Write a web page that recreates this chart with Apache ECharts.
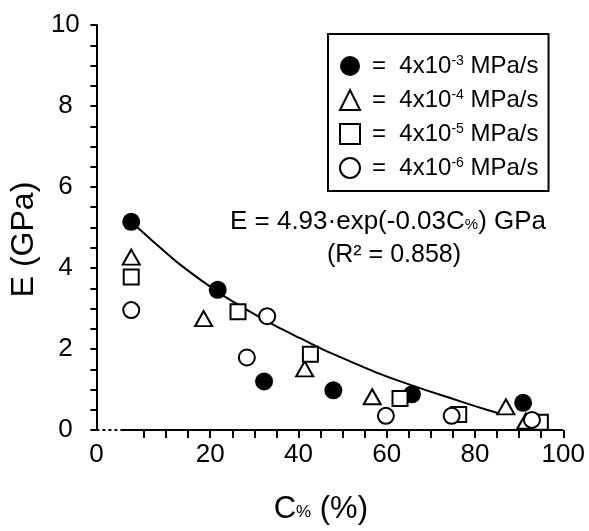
<!DOCTYPE html>
<html>
<head>
<meta charset="utf-8">
<script src="https://cdn.jsdelivr.net/npm/echarts@6/dist/echarts.min.js"></script>
<style>
  html, body { margin: 0; padding: 0; background: #fff; }
  #chart { width: 589px; height: 531px; }
</style>
</head>
<body>
<div id="chart"></div>
<script>
const FONT = '"Liberation Sans", Arial, Helvetica, sans-serif';

// Loading rates: 4x10^n MPa/s
const rateExponents = ['-3', '-4', '-5', '-6'];
const seriesNames = rateExponents.map(e => '4x10' + e + ' MPa/s');

// C% (%) and E (GPa) for each loading rate
const rate3C = [2.1, 21.7, 32.2, 47.9, 65.7, 90.9];
const rate3E = [5.14, 3.46, 1.20, 0.98, 0.88, 0.67];
const rate4C = [2.1, 18.5, 41.4, 56.7, 87.0, 91.5];
const rate4E = [4.27, 2.75, 1.51, 0.82, 0.57, 0.22];
const rate5C = [2.1, 26.3, 42.7, 63.0, 76.3, 94.8];
const rate5E = [3.78, 2.92, 1.87, 0.78, 0.38, 0.19];
const rate6C = [2.1, 28.3, 32.9, 59.8, 74.7, 92.9];
const rate6E = [2.96, 1.79, 2.81, 0.35, 0.35, 0.25];

// Exponential trend curve, sampled along C%
const fitC = [2.1, 6.6, 12.2, 17.9, 23.5, 29.2, 34.8, 40.5, 46.1, 51.8, 57.4, 63.1, 68.7, 74.4, 80.0, 85.7];
const fitE = [5.14, 4.70, 4.17, 3.70, 3.28, 2.91, 2.57, 2.26, 1.96, 1.69, 1.43, 1.20, 0.99, 0.79, 0.59, 0.40];

// Axis setup: x axis is broken between the E axis and C% = 0
const xBreakStart = -5.8;
const xTickValues = [5, 10, 15, 20, 25, 30, 35, 40, 45, 50, 55, 60, 65, 70, 75, 80, 85, 90, 95, 100];
const xLabelValues = [xBreakStart, 20, 40, 60, 80, 100];
const yTickLabels = [0, 2, 4, 6, 8, 10];

const zip = (xs, ys) => xs.map((x, i) => [x, ys[i]]);

const openStyle = { color: '#fff', borderColor: '#000', borderWidth: 2, opacity: 1 };

const chart = echarts.init(document.getElementById('chart'), null, { renderer: 'canvas' });

chart.setOption({
  animation: false,
  backgroundColor: '#fff',
  textStyle: { fontFamily: FONT, color: '#000' },
  grid: { left: 95, right: 25.7, top: 25, bottom: 101 },
  xAxis: {
    type: 'value',
    min: xBreakStart,
    max: 100,
    axisLine: { show: false, onZero: false },
    splitLine: { show: false },
    axisTick: {
      show: true,
      customValues: xTickValues,
      length: 8,
      lineStyle: { color: '#000', width: 2 }
    },
    axisLabel: {
      customValues: xLabelValues,
      formatter: v => (v < 0 ? '0' : String(Math.round(v))),
      fontSize: 26,
      color: '#000',
      fontFamily: FONT,
      margin: 12
    },
    name: '{c|C}{s|%}{c| (%)}',
    nameLocation: 'middle',
    nameGap: 62,
    nameTextStyle: {
      padding: [0, 18, 0, 0],
      rich: {
        c: { fontSize: 31, fontFamily: FONT, color: '#000', lineHeight: 34 },
        s: { fontSize: 17, fontFamily: FONT, color: '#000', lineHeight: 19, verticalAlign: 'bottom', padding: [0, 0, 5, 0] }
      }
    }
  },
  yAxis: {
    type: 'value',
    min: 0,
    max: 10,
    interval: 2,
    axisLine: { show: true, onZero: false, lineStyle: { color: '#000', width: 2 } },
    splitLine: { show: false },
    axisTick: { show: true, length: 6, lineStyle: { color: '#000', width: 2 } },
    minorTick: { show: true, splitNumber: 4, length: 6, lineStyle: { color: '#000', width: 2 } },
    axisLabel: {
      customValues: yTickLabels,
      fontSize: 26,
      color: '#000',
      fontFamily: FONT,
      align: 'center',
      margin: 31
    },
    name: 'E (GPa)',
    nameLocation: 'middle',
    nameRotate: 90,
    nameGap: 52,
    nameTextStyle: { fontSize: 32, fontFamily: FONT, color: '#000', padding: [0, 24, 0, 0] }
  },
  legend: {
    data: seriesNames,
    orient: 'vertical',
    left: 328,
    top: 34,
    padding: [20, 10, 11, 11],
    itemGap: 10,
    itemWidth: 20,
    itemHeight: 20,
    borderColor: '#000',
    borderWidth: 2,
    selectedMode: false,
    formatter: name => {
      const e = rateExponents[seriesNames.indexOf(name)];
      return '{eq|=}{t|  4x10}{s|' + e + '}{t| MPa/s}';
    },
    textStyle: {
      fontFamily: FONT,
      color: '#000',
      rich: {
        eq: { fontSize: 24, fontFamily: FONT, color: '#000', lineHeight: 24, padding: [0, 0, 0, 7] },
        t: { fontSize: 24, fontFamily: FONT, color: '#000', lineHeight: 24 },
        s: { fontSize: 14, fontFamily: FONT, color: '#000', lineHeight: 14, verticalAlign: 'top' }
      }
    }
  },
  graphic: [
    {
      type: 'text',
      x: 388,
      y: 222,
      style: {
        text: '{t|E = 4.93·exp(-0.03C}{s|%}{t|) GPa}',
        align: 'center',
        verticalAlign: 'middle',
        rich: {
          t: { fontSize: 26, fontFamily: FONT, fill: '#000', lineHeight: 28 },
          s: { fontSize: 15, fontFamily: FONT, fill: '#000', lineHeight: 16, verticalAlign: 'bottom', padding: [0, 0, 4, 0] }
        }
      }
    },
    {
      type: 'text',
      x: 394,
      y: 255,
      style: {
        text: '(R² = 0.858)',
        align: 'center',
        verticalAlign: 'middle',
        fontSize: 25,
        fontFamily: FONT,
        fill: '#000'
      }
    }
  ],
  series: [
    {
      name: 'axis-base',
      type: 'line',
      data: [[0, 0], [100, 0]],
      symbol: 'none',
      clip: false,
      silent: true,
      lineStyle: { color: '#000', width: 2 },
      z: 1
    },
    {
      name: 'axis-break',
      type: 'line',
      data: [[xBreakStart, 0], [0, 0]],
      symbol: 'none',
      clip: false,
      silent: true,
      lineStyle: { color: '#000', width: 2, type: [3, 3] },
      z: 1
    },
    {
      name: 'trend',
      type: 'line',
      data: zip(fitC, fitE),
      symbol: 'none',
      smooth: 0.3,
      silent: true,
      lineStyle: { color: '#000', width: 2 },
      z: 2
    },
    {
      name: seriesNames[0],
      type: 'scatter',
      data: zip(rate3C, rate3E),
      symbol: 'circle',
      symbolSize: 18,
      itemStyle: { color: '#000', opacity: 1 },
      z: 3
    },
    {
      name: seriesNames[1],
      type: 'scatter',
      data: zip(rate4C, rate4E),
      symbol: 'triangle',
      symbolSize: [17, 15],
      itemStyle: openStyle,
      z: 4
    },
    {
      name: seriesNames[2],
      type: 'scatter',
      data: zip(rate5C, rate5E),
      symbol: 'rect',
      symbolSize: 15,
      itemStyle: openStyle,
      z: 5
    },
    {
      name: seriesNames[3],
      type: 'scatter',
      data: zip(rate6C, rate6E),
      symbol: 'circle',
      symbolSize: 16,
      itemStyle: openStyle,
      z: 6
    }
  ]
});
</script>
</body>
</html>
